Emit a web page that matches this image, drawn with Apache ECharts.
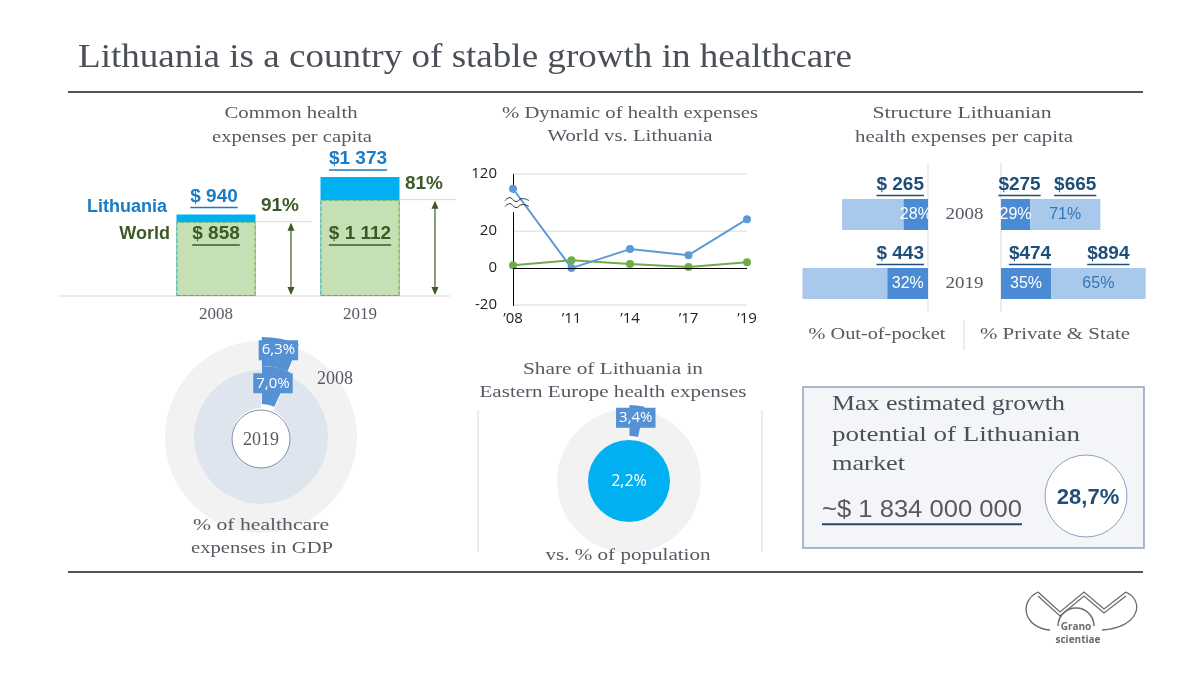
<!DOCTYPE html>
<html>
<head>
<meta charset="utf-8">
<script src="https://cdn.jsdelivr.net/npm/echarts@6/dist/echarts.min.js"></script>
<style>
html, body { margin: 0; padding: 0; background: #fff; }
#main { width: 1200px; height: 675px; }
</style>
</head>
<body>
<div id="main"></div>
<script>
// common health expenses per capita, $
const years = ['2008', '2019'];
const lithuaniaSpend = [940, 1373];
const worldSpend = [858, 1112];
const lithuaniaSpendLabels = ['$ 940', '$1 373'];
const worldSpendLabels = ['$ 858', '$ 1 112'];
const worldShareLabels = ['91%', '81%'];

// % dynamic of health expenses
const dynYears = ['\u201908', '\u201911', '\u201914', '\u201917', '\u201919'];
const dynLithuania = [112, 0, 10.3, 7, 26.5];
const dynWorld = [1.6, 4.3, 2.2, 0.6, 3.2];
const dynTicks = [-20, 0, 20, 120];

// structure of Lithuanian expenses per capita, $
const oopTotal = [940, 1373];
const oopValues = [265, 443];
const oopPct = ['28%', '32%'];
const oopLabels = ['$ 265', '$ 443'];
const privValues = [275, 474];
const stateValues = [665, 894];
const privPct = ['29%', '35%'];
const statePct = ['71%', '65%'];
const privLabels = ['$275', '$474'];
const stateLabels = ['$665', '$894'];

// % of healthcare expenses in GDP
const gdpShare = [6.3, 7.0];      // 2008 ring, 2019 ring
const gdpRest = [93.7, 93.0];

// share of Lithuania in Eastern Europe
const eeExpenseShare = [3.4, 96.6];
const eePopulationShare = [2.2];

const growthAmount = '~$ 1 834 000 000';
const growthPct = '28,7%';

const SERIF = '"Liberation Serif", "DejaVu Serif", serif';
const SANS = '"Liberation Sans", Arial, sans-serif';
const CAL = '"Open Sans", "Noto Sans", sans-serif';
const GREY = '#555a62';
const pct = v => v.toFixed(1).replace('.', ',') + '%';

let chart = echarts.init(document.getElementById('main'));

let option = {
    animation: false,
    grid: [
        { left: 144, width: 288, top: 166, height: 130 },
        { left: 513, width: 234, top: 174, height: 131 },
        { left: 800, width: 128, top: 180, height: 138 },
        { left: 1001, width: 148, top: 180, height: 138 }
    ],
    xAxis: [
        { gridIndex: 0, type: 'category', data: years, axisLine: { show: false }, axisTick: { show: false },
          axisLabel: { fontFamily: SERIF, fontSize: 17, color: GREY, margin: 10 } },
        { gridIndex: 1, type: 'category', data: dynYears, boundaryGap: false,
          axisLine: { show: false, onZero: false }, axisTick: { show: false },
          axisLabel: { fontFamily: CAL, fontSize: 15, color: '#222', margin: 6 } },
        { gridIndex: 2, type: 'value', inverse: true, min: 0, max: 1400, show: false },
        { gridIndex: 3, type: 'value', min: 0, max: 1400, show: false }
    ],
    yAxis: [
        { gridIndex: 0, type: 'value', min: 0, max: 1500, show: false },
        { gridIndex: 1, type: 'value', min: -20, max: 120, interval: 20,
          breaks: [{ start: 30, end: 110, gap: 11 }],
          breakArea: { show: false },
          axisLine: { show: true, lineStyle: { color: '#000' } }, axisTick: { show: false },
          splitLine: { show: false }, axisLabel: { show: false } },
        { gridIndex: 2, type: 'category', data: years, inverse: true, show: false },
        { gridIndex: 3, type: 'category', data: years, inverse: true, show: false }
    ],
    series: [
        // common expenses per capita
        { type: 'bar', xAxisIndex: 0, yAxisIndex: 0, data: lithuaniaSpend, barWidth: 79, barGap: '-100%',
          itemStyle: { color: '#00b0f0' }, z: 2 },
        { type: 'bar', xAxisIndex: 0, yAxisIndex: 0, data: worldSpend, barWidth: 79, barGap: '-100%',
          itemStyle: { color: '#c5e0b4', borderColor: '#70ad47', borderWidth: 1, borderType: 'dashed' }, z: 3 },
        // dynamic
        { type: 'line', xAxisIndex: 1, yAxisIndex: 1, data: dynWorld, color: '#70ad47',
          symbol: 'circle', symbolSize: 8, lineStyle: { width: 2 },
          markLine: { silent: true, symbol: 'none', label: { show: false },
                      lineStyle: { color: '#000', width: 1, type: 'solid' }, data: [{ yAxis: 0 }] } },
        { type: 'line', xAxisIndex: 1, yAxisIndex: 1, data: dynLithuania, color: '#5b9bd5',
          symbol: 'circle', symbolSize: 8, lineStyle: { width: 2 } },
        // out-of-pocket
        { type: 'bar', xAxisIndex: 2, yAxisIndex: 2, data: oopTotal, barWidth: 31, barGap: '-100%',
          itemStyle: { color: '#a9c9ec' } },
        { type: 'bar', xAxisIndex: 2, yAxisIndex: 2, data: oopValues, barWidth: 31, barGap: '-100%',
          itemStyle: { color: '#4a8bd3' },
          label: { show: true, position: 'inside', formatter: p => oopPct[p.dataIndex],
                   color: '#fff', fontFamily: SANS, fontSize: 16 } },
        // private & state
        { type: 'bar', xAxisIndex: 3, yAxisIndex: 3, stack: 'ps', data: privValues, barWidth: 31,
          itemStyle: { color: '#4a8bd3' },
          label: { show: true, position: 'inside', formatter: p => privPct[p.dataIndex],
                   color: '#fff', fontFamily: SANS, fontSize: 16 } },
        { type: 'bar', xAxisIndex: 3, yAxisIndex: 3, stack: 'ps', data: stateValues, barWidth: 31,
          itemStyle: { color: '#a9c9ec' },
          label: { show: true, position: 'inside', formatter: p => statePct[p.dataIndex],
                   color: '#2e75b6', fontFamily: SANS, fontSize: 16 } },
        // GDP rings
        { type: 'pie', center: [261, 437], radius: [67, 96], startAngle: 90, selectedMode: 'single', selectedOffset: 4,
          emphasis: { disabled: true }, label: { show: false }, labelLine: { show: false },
          data: [
              { value: gdpShare[0], selected: true, itemStyle: { color: '#5591d3' },
                label: { show: true, position: 'inside', formatter: p => pct(p.value), color: '#fff',
                         backgroundColor: '#5591d3', padding: [3, 3, 2, 3], fontFamily: CAL, fontSize: 15 } },
              { value: gdpRest[0], itemStyle: { color: '#f2f2f2' } }
          ] },
        { type: 'pie', center: [261, 437], radius: [29, 67], startAngle: 90, selectedMode: 'single', selectedOffset: 4,
          emphasis: { disabled: true }, label: { show: false }, labelLine: { show: false },
          data: [
              { value: gdpShare[1], selected: true, itemStyle: { color: '#5591d3' },
                label: { show: true, position: 'inside', formatter: p => pct(p.value), color: '#fff',
                         backgroundColor: '#5591d3', padding: [3, 3, 2, 3], fontFamily: CAL, fontSize: 15 } },
              { value: gdpRest[1], itemStyle: { color: '#dee5ef' } }
          ] },
        // Eastern Europe share
        { type: 'pie', center: [629, 481], radius: [41, 72], startAngle: 90, selectedMode: 'single', selectedOffset: 4,
          emphasis: { disabled: true }, label: { show: false }, labelLine: { show: false },
          data: [
              { value: eeExpenseShare[0], selected: true, itemStyle: { color: '#5591d3' },
                label: { show: true, position: 'inside', formatter: p => pct(p.value), color: '#fff',
                         backgroundColor: '#5591d3', padding: [3, 3, 2, 3], fontFamily: CAL, fontSize: 15 } },
              { value: eeExpenseShare[1], itemStyle: { color: '#f2f2f2' } }
          ] },
        { type: 'pie', center: [629, 481], radius: [0, 41], emphasis: { disabled: true }, labelLine: { show: false },
          label: { show: true, position: 'center', formatter: p => pct(p.value), color: '#fff', fontFamily: CAL, fontSize: 16 },
          data: [{ value: eePopulationShare[0], itemStyle: { color: '#00b0f0' } }] }
    ]
};
chart.setOption(option);

// ---- text and decorations ----
const measure = document.createElement('canvas').getContext('2d');
function textWidth(text, font) { measure.font = font; return measure.measureText(text).width; }
const gfx = [];
function txt(x, y, text, o) {
    const size = o.size || 17, weight = o.weight || 'normal', family = o.family || SERIF;
    const font = weight + ' ' + size + 'px ' + family;
    const nw = textWidth(text, font);
    const sx = o.w ? o.w / nw : 1;
    const align = o.align || 'center';
    gfx.push({ type: 'text', x: x, y: y, scaleX: sx, z: 100, silent: true,
        style: { text: text, font: font, fill: o.color || GREY, align: align, verticalAlign: 'middle',
                 textAlign: align, textVerticalAlign: 'middle' } });
    if (o.ul) {
        const w = nw * sx;
        const x0 = align === 'center' ? x - w / 2 : (align === 'right' ? x - w : x);
        const uy = y + size * 0.58;
        gfx.push({ type: 'line', z: 100, silent: true, shape: { x1: x0, y1: uy, x2: x0 + w, y2: uy },
                   style: { stroke: o.ul, lineWidth: o.ulw || 1.6 } });
    }
}
function seg(x1, y1, x2, y2, color, width, z) {
    gfx.push({ type: 'line', silent: true, z: z === undefined ? 90 : z, shape: { x1: x1, y1: y1, x2: x2, y2: y2 },
               style: { stroke: color, lineWidth: width || 1 } });
}
function vArrow(x, y1, y2, color) {
    seg(x, y1 + 2, x, y2 - 2, color, 1.2);
    gfx.push({ type: 'polygon', silent: true, z: 100, shape: { points: [[x, y1], [x - 3.5, y1 + 8], [x + 3.5, y1 + 8]] }, style: { fill: color } });
    gfx.push({ type: 'polygon', silent: true, z: 100, shape: { points: [[x, y2], [x - 3.5, y2 - 8], [x + 3.5, y2 - 8]] }, style: { fill: color } });
}
const px = (gi, pt) => chart.convertToPixel({ gridIndex: gi }, pt);

// title and rules
txt(78, 58, 'Lithuania is a country of stable growth in healthcare', { size: 34, align: 'left', w: 774, color: '#4b4f58' });
seg(68, 92, 1143, 92, '#4f555e', 2);
seg(68, 572, 1143, 572, '#4f555e', 2);

// panel titles
txt(291, 114, 'Common health', { w: 133 });
txt(292, 138, 'expenses per capita', { w: 160 });
txt(630, 114, '% Dynamic of health expenses', { w: 256 });
txt(630, 137, 'World vs. Lithuania', { w: 165 });
txt(962, 114, 'Structure Lithuanian', { w: 179 });
txt(964, 138, 'health expenses per capita', { w: 218 });

// panel 1: bars
const BLUE_T = '#1a7cc4', GREEN_T = '#3d5a26';
const base1 = px(0, [0, 0])[1];
seg(58, base1, 450, base1, '#d9d9d9', 1, 1);
for (let i = 0; i < years.length; i++) {
    const cx = px(0, [i, 0])[0];
    const yL = px(0, [i, lithuaniaSpend[i]])[1];
    const yW = px(0, [i, worldSpend[i]])[1];
    txt(cx - 2, yL - 18, lithuaniaSpendLabels[i], { family: SANS, weight: 'bold', size: 19, color: BLUE_T, ul: BLUE_T });
    txt(cx, 234, worldSpendLabels[i], { family: SANS, weight: 'bold', size: 19, color: GREEN_T, ul: GREEN_T });
    seg(cx + 40, yW, cx + 96, yW, '#d9d9d9', 1);
    vArrow(cx + 75, yW + 1, base1 - 1, '#3d5a26');
    txt(cx + 64, yW - 16, worldShareLabels[i], { family: SANS, weight: 'bold', size: 19, color: GREEN_T });
}
{
    const cx0 = px(0, [0, 0])[0];
    const yL0 = px(0, [0, lithuaniaSpend[0]])[1];
    txt(cx0 - 49, yL0 - 8, 'Lithuania', { family: SANS, weight: 'bold', size: 18, color: BLUE_T, align: 'right' });
    txt(cx0 - 46, 234, 'World', { family: SANS, weight: 'bold', size: 18, color: GREEN_T, align: 'right' });
}

// panel 2: tick labels, grid lines and the axis break mark
{
    const ax = px(1, [0, 0])[0];
    const axEnd = px(1, [dynYears.length - 1, 0])[0];
    dynTicks.forEach(v => {
        const y = px(1, [0, v])[1];
        if (v !== 0) seg(ax, y, axEnd, y, '#d9d9d9', 1, 0);
        txt(ax - 16, y, String(v), { family: CAL, size: 15, color: '#222', align: 'right' });
    });
    const yHi = px(1, [0, 110])[1], yLo = px(1, [0, 30])[1];
    const ym = (yHi + yLo) / 2;
    gfx.push({ type: 'rect', silent: true, z: 95, shape: { x: ax - 2, y: ym - 3, width: 4, height: 6 }, style: { fill: '#fff' } });
    [-3, 3].forEach(d => {
        gfx.push({ type: 'polyline', silent: true, z: 96,
            shape: { points: [[ax - 8, ym + d + 1], [ax - 3, ym + d - 2], [ax + 3, ym + d + 2], [ax + 9, ym + d - 1], [ax + 16, ym + d + 1]], smooth: 0.5 },
            style: { stroke: '#333', lineWidth: 1, fill: null } });
    });
}

// panel 3: structure
const NAVY = '#1f4e79';
const axR = px(2, [0, 0])[0];
const axL = px(3, [0, 0])[0];
seg(axR, 163, axR, 312, '#d9d9d9', 1, 0);
seg(axL, 163, axL, 312, '#d9d9d9', 1, 0);
for (let i = 0; i < years.length; i++) {
    const cy = px(2, [0, i])[1];
    txt(axR - 4, cy - 30, oopLabels[i], { family: SANS, weight: 'bold', size: 19, color: NAVY, align: 'right', ul: NAVY });
    const xp = px(3, [privValues[i], i])[0];
    const xs = px(3, [privValues[i] + stateValues[i], i])[0];
    txt((axL + xp) / 2 + 4, cy - 30, privLabels[i], { family: SANS, weight: 'bold', size: 19, color: NAVY, ul: NAVY });
    txt((xp + xs) / 2 + 10, cy - 30, stateLabels[i], { family: SANS, weight: 'bold', size: 19, color: NAVY, ul: NAVY });
    txt((axR + axL) / 2, cy, years[i], { size: 17, w: 38 });
}
txt(877, 335, '% Out-of-pocket', { w: 137 });
txt(1055, 335, '% Private & State', { w: 150 });
seg(964, 320, 964, 350, '#d9d9d9', 1);

// panel 4: GDP rings
gfx.push({ type: 'circle', silent: true, z: 100, shape: { cx: 261, cy: 439, r: 29 }, style: { fill: '#fff', stroke: '#8091a8', lineWidth: 1 } });
txt(261, 440, years[1], { size: 18 });
txt(335, 379, years[0], { size: 18 });
txt(261, 526, '% of healthcare', { w: 136 });
txt(262, 549, 'expenses in GDP', { w: 142 });

// panel 5: share of Eastern Europe
txt(613, 370, 'Share of Lithuania in', { w: 180 });
txt(613, 393, 'Eastern Europe health expenses', { w: 267 });
txt(628, 556, 'vs. % of population', { w: 165 });
seg(478, 410, 478, 552, '#d9d9d9', 1);
seg(762, 410, 762, 552, '#d9d9d9', 1);

// growth potential box
gfx.push({ type: 'rect', silent: true, z: 80, shape: { x: 803, y: 387, width: 341, height: 161 }, style: { fill: '#f3f5f9', stroke: '#8ea2bb', lineWidth: 1.5 } });
txt(832, 404, 'Max estimated growth', { size: 22, align: 'left', w: 233, color: '#4b4f58' });
txt(832, 435, 'potential of Lithuanian', { size: 22, align: 'left', w: 248, color: '#4b4f58' });
txt(832, 464, 'market', { size: 22, align: 'left', w: 73, color: '#4b4f58' });
txt(822, 511, growthAmount, { family: SANS, size: 23, align: 'left', w: 200, color: '#595959', ul: '#2f4a66', ulw: 2 });
gfx.push({ type: 'circle', silent: true, z: 90, shape: { cx: 1086, cy: 496, r: 41 }, style: { fill: '#fff', stroke: '#8ea2bb', lineWidth: 1 } });
txt(1088, 498, growthPct, { family: SANS, weight: 'bold', size: 22, color: NAVY });

// logo
{
    const lc = '#6b6b6b';
    const zig = (dy) => gfx.push({ type: 'polyline', silent: true, z: 100,
        shape: { points: [[1038, 592 + dy], [1060, 612 + dy], [1084, 592 + dy], [1104, 609 + dy], [1126, 592 + dy]] },
        style: { stroke: lc, lineWidth: 1.3, fill: null } });
    zig(0); zig(4);
    gfx.push({ type: 'arc', silent: true, z: 100, shape: { cx: 1076, cy: 626, r: 18, startAngle: Math.PI, endAngle: 2 * Math.PI }, style: { stroke: lc, lineWidth: 1.5, fill: null } });
    gfx.push({ type: 'bezierCurve', silent: true, z: 100, shape: { x1: 1038, y1: 592, cpx1: 1018, cpy1: 602, cpx2: 1024, cpy2: 628, x2: 1050, y2: 630 }, style: { stroke: lc, lineWidth: 1.3, fill: null } });
    gfx.push({ type: 'bezierCurve', silent: true, z: 100, shape: { x1: 1126, y1: 592, cpx1: 1146, cpy1: 602, cpx2: 1138, cpy2: 628, x2: 1102, y2: 630 }, style: { stroke: lc, lineWidth: 1.3, fill: null } });
    txt(1076, 627, 'Grano', { family: CAL, weight: 'bold', size: 10, color: lc });
    txt(1078, 640, 'scientiae', { family: CAL, weight: 'bold', size: 10, color: lc });
}

chart.setOption({ graphic: { elements: gfx } });
</script>
</body>
</html>
